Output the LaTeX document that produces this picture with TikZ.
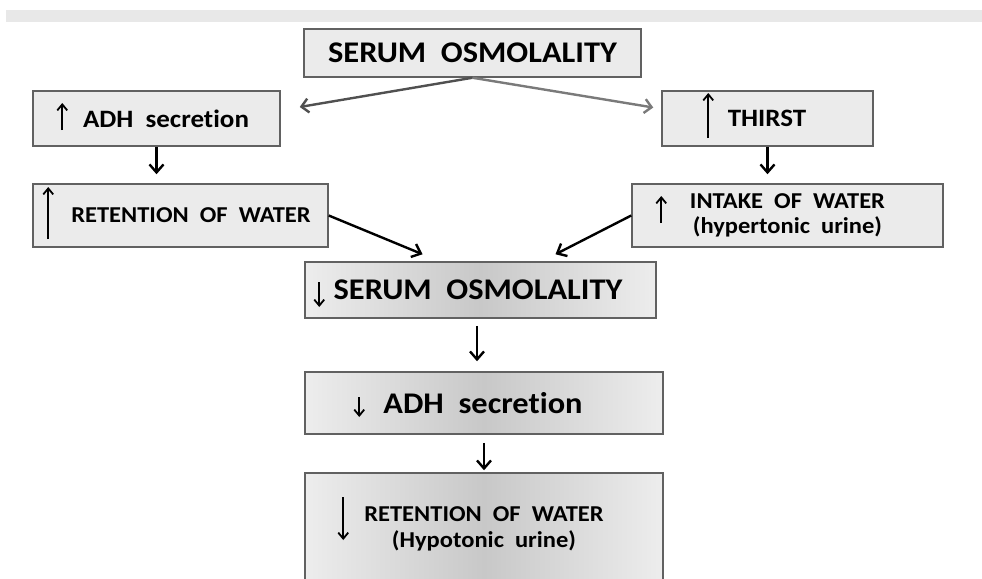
\documentclass[tikz,border=0pt]{standalone}
\usepackage{fontspec}
\setmainfont[FakeStretch=1.08, Ligatures=NoCommon]{Carlito}
\usetikzlibrary{arrows.meta,positioning,calc}

\definecolor{boxfill}{HTML}{EBEBEB}
\definecolor{boxline}{HTML}{616161}
\definecolor{bandgray}{HTML}{E8E8E8}
\definecolor{shadeedge}{HTML}{EDEDED}
\definecolor{shademid}{HTML}{C8C8C8}
\definecolor{leftarr}{HTML}{505050}
\definecolor{rightarr}{HTML}{7A7A7A}

\begin{document}
\begin{tikzpicture}[
    x=1pt, y=-1pt,
    box/.style={draw=boxline, line width=1.5pt, fill=boxfill, inner sep=0pt},
    shbox/.style={box, left color=shadeedge, right color=shadeedge, middle color=shademid},
    big/.style={font=\fontsize{30}{32}\selectfont\bfseries},
    mid/.style={font=\fontsize{25}{27}\selectfont\bfseries},
    small/.style={font=\fontsize{22.7}{25}\selectfont\bfseries},
    arr/.style={-{Straight Barb[length=8pt, width=14pt]}, line width=2.4pt},
    garr/.style={-{Straight Barb[length=7pt, width=14pt]}, line width=2.4pt},
    inarr/.style={-{Straight Barb[length=6pt, width=10pt]}, line width=1.8pt},
  ]
    \clip (0,0) rectangle (982,578);
    \fill[bandgray] (6,10) rectangle (982,22);

    % boxes
    \node[box, big, minimum width=337pt, minimum height=48pt] (sosup) at (472.5,53) {SERUM~~OSMOLALITY};
    \node[box, mid, minimum width=247pt, minimum height=55pt] (adhup) at (156.5,118.5) {\hspace*{19pt}ADH~~secretion};
    \node[box, mid, minimum width=211pt, minimum height=55pt] (thirst) at (767.5,118.5) {\hspace*{20pt}THIRST\hspace*{21pt}};
    \node[box, small, minimum width=295pt, minimum height=63pt] (retup) at (180.5,215.5) {\hspace*{21pt}RETENTION~~OF~~WATER};
    \node[box, small, align=center, minimum width=311pt, minimum height=63pt] (intake) at (787.5,215.5) {INTAKE~~OF~~WATER\\(hypertonic~~urine)};
    \node[shbox, big, minimum width=351pt, minimum height=56pt] (sosdown) at (480.5,290) {\hspace*{22pt}SERUM~~OSMOLALITY\hspace*{27pt}};
    \node[shbox, big, minimum width=358pt, minimum height=62pt] (adhdown) at (484,403) {\hspace*{29pt}ADH~~secretion\hspace*{31pt}};
    \node[shbox, small, align=center, minimum width=358pt, minimum height=112pt] (retdown) at (484,529) {RETENTION~~OF~~WATER\\[1pt](Hypotonic~~urine)};

    % up / down marks inside the boxes
    \draw[inarr] ($(adhup.west)+(30,11.5)$) -- +(0,-27);
    \draw[inarr] ($(thirst.west)+(47,19.5)$) -- +(0,-45);
    \draw[inarr] ($(retup.west)+(16,23.5)$) -- +(0,-52);
    \draw[inarr] ($(intake.west)+(30,7.5)$) -- +(0,-27);
    \draw[inarr] ($(sosdown.west)+(15,-8)$) -- +(0,25);
    \draw[inarr] ($(adhdown.west)+(55,-6)$) -- +(0,20);
    \draw[inarr] ($(retdown.west)+(39,-32)$) -- +(0,43);

    % connectors
    \draw[garr, leftarr] (sosup.south) -- ([xshift=19pt,yshift=11.5pt]adhup.east);
    \draw[garr, rightarr] (sosup.south) -- ([xshift=-8pt,yshift=11pt]thirst.west);
    \draw[arr, shorten >=9pt] (adhup.south) -- (adhup.south |- retup.north);
    \draw[arr, shorten >=9pt] (thirst.south) -- (thirst.south |- intake.north);
    \draw[arr] (retup.east) -- ([xshift=-58pt,yshift=7pt]sosdown.north);
    \draw[arr] (intake.west) -- ([xshift=75pt,yshift=7pt]sosdown.north);
    \draw[arr, shorten <=7pt, shorten >=10pt] ([xshift=-3.5pt]sosdown.south) -- ([xshift=-3.5pt]sosdown.south |- adhdown.north);
    \draw[arr, shorten <=8pt, shorten >=2pt] (adhdown.south) -- (retdown.north);
  \end{tikzpicture}
\end{document}
